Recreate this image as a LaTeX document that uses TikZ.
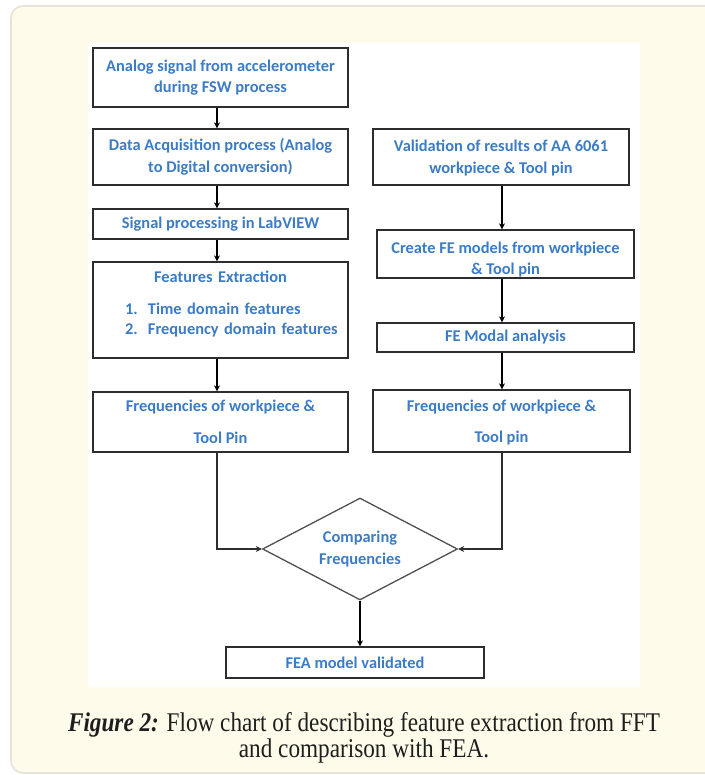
\documentclass[tikz,border=0pt]{standalone}
\usepackage{fontspec}
\setmainfont{Liberation Serif}
\newfontfamily\boxfont{Carlito}
\newfontfamily\capfont[FakeStretch=0.86]{Liberation Serif}
\usetikzlibrary{shapes.geometric,arrows.meta}
\definecolor{panelfill}{RGB}{255,251,235}
\definecolor{panelline}{RGB}{230,227,215}
\definecolor{txtblue}{RGB}{60,124,196}
\definecolor{edgecol}{RGB}{45,45,45}
\definecolor{diacol}{RGB}{80,80,80}
\definecolor{captext}{RGB}{30,30,30}
\begin{document}
\begin{tikzpicture}[x=1pt,y=-1pt,
  boxfnt/.style={font={\boxfont\bfseries\fontsize{16.4}{21.5}\selectfont}},
  fbox/.style={draw=edgecol, line width=1.4pt, fill=white, inner sep=0pt, align=center, text=txtblue, boxfnt},
  btext/.style={inner sep=0pt, align=center, text=txtblue, boxfnt},
  dbox/.style={diamond, draw=diacol, line width=1.3pt, fill=white, inner sep=0pt, aspect=1.9, align=center, text=txtblue, boxfnt},
  captxt/.style={inner sep=0pt, anchor=base, text=captext, font={\capfont\fontsize{27}{27}\selectfont}},
  arr/.style={draw=black, line width=1.8pt, -{Stealth[length=6pt,width=6pt]}},
  link/.style={draw=edgecol, line width=1.6pt, -{Stealth[length=6pt,width=6pt]}}
]
\useasboundingbox (0,0) rectangle (704,775);
\fill[white] (0,0) rectangle (704,775);
\path[fill=panelfill, draw=panelline, line width=1.6pt, rounded corners=12pt] (11,6) rectangle (740,773);
\fill[white] (88,43) rectangle (640,687);
\coordinate (lx) at (217,0);
\coordinate (rx) at (502,0);

% left column
\node[fbox, minimum width=255, minimum height=59] (b1) at (220.5,77.5)
  {Analog signal from accelerometer\\during FSW process};
\node[fbox, minimum width=255, minimum height=56] (b2) at (220.5,157)
  {Data Acquisition process (Analog\\to Digital conversion)};
\node[fbox, minimum width=255, minimum height=30] (b3) at (220.5,224)
  {Signal processing in LabVIEW};
\node[fbox, minimum width=255, minimum height=96, text width=255, align=left] (b4) at (220.5,310)
  {{\centering Features Extraction\par}\vspace{13pt}%
   {\leftskip=32pt\baselineskip=19.5pt \makebox[23pt][l]{1.}Time domain features\par
   \makebox[23pt][l]{2.}Frequency domain features\par}\vspace{12pt}};
\node[fbox, minimum width=255, minimum height=60] (b5) at (220.5,422)
  {Frequencies of workpiece \&\\[11pt]Tool Pin};

% right column
\node[fbox, minimum width=256, minimum height=56] (r1) at (501,157)
  {\rule{0pt}{14pt}Validation of results of AA 6061\\workpiece \& Tool pin};
\node[fbox, minimum width=257, minimum height=48] (r2) at (505.5,254) {};
\node[btext] (r2t) at (505.5,259.5)
  {Create FE models from workpiece\\\& Tool pin};
\node[fbox, minimum width=257, minimum height=29] (r3) at (505.5,337.5)
  {FE Modal analysis};
\node[fbox, minimum width=257, minimum height=62] (r4) at (501.5,421)
  {\rule{0pt}{15pt}Frequencies of workpiece \&\\[10pt]Tool pin};

% decision and result
\node[dbox, minimum width=195, minimum height=102] (d) at (360,549)
  {Comparing\\Frequencies};
\node[fbox, minimum width=258, minimum height=31] (fea) at (355,662.5)
  {FEA model validated};

% caption
\node[captxt] (cap1) at (364,731)
  {\textbf{\textit{Figure 2:}} Flow chart of describing feature extraction from FFT};
\node[captxt] (cap2) at (364,757) {and comparison with FEA.};

% connectors
\draw[arr] (b1.south -| lx) -- (b2.north -| lx);
\draw[arr] (b2.south -| lx) -- (b3.north -| lx);
\draw[arr] (b3.south -| lx) -- (b4.north -| lx);
\draw[arr] (b4.south -| lx) -- (b5.north -| lx);
\draw[arr] (r1.south -| rx) -- (r2.north -| rx);
\draw[arr] (r2.south -| rx) -- (r3.north -| rx);
\draw[arr] (r3.south -| rx) -- (r4.north -| rx);
\draw[link] (b5.south -| lx) |- (d.west);
\draw[link] (r4.south -| rx) |- (d.east);
\draw[arr] (d.south) -- (d.south |- fea.north);
\end{tikzpicture}
\end{document}
